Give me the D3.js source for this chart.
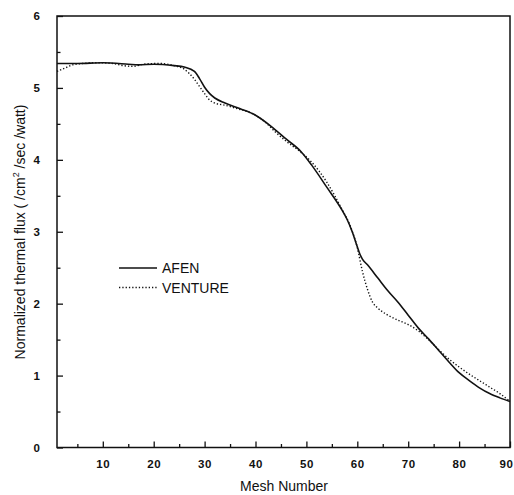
<!DOCTYPE html>
<html><head><meta charset="utf-8">
<script src="https://cdn.jsdelivr.net/npm/d3@7"></script>
<style>body{margin:0;background:#fff}svg{display:block}text{font-family:"Liberation Sans",Arial,sans-serif;fill:#111}</style>
</head><body><svg id="c" width="514" height="495"></svg>
<script>
const afenX = [1,5,10,15,17,20,24,26,28,29,30,31,32,34,37,40,43,46,49,51,54,57,58,59,60,60.5,61,62,64,66,68,70,72,74,76,78,80,82,84,86,88,90];
const afenY = [5.34,5.34,5.35,5.33,5.32,5.33,5.31,5.29,5.23,5.13,5.01,4.92,4.86,4.79,4.71,4.62,4.47,4.29,4.11,3.93,3.62,3.30,3.17,3.00,2.79,2.69,2.62,2.54,2.36,2.18,2.02,1.84,1.66,1.51,1.35,1.19,1.04,0.93,0.83,0.75,0.69,0.64];
const ventX = [1,2,3,4,6,9,12,14,16,18,21,24,26,27,28,29,30,31,32,34,36,40,42,44,46,49,51,54,57,58.5,60,61,62,63,64,66,68,70,72,74,76,78,80,82,84,86,88,90];
const ventY = [5.23,5.26,5.29,5.32,5.34,5.35,5.34,5.31,5.30,5.33,5.34,5.31,5.26,5.20,5.12,5.02,4.92,4.83,4.79,4.76,4.72,4.62,4.52,4.38,4.26,4.10,3.97,3.69,3.31,3.10,2.78,2.45,2.20,2.02,1.94,1.84,1.77,1.71,1.62,1.50,1.36,1.23,1.12,1.02,0.93,0.84,0.75,0.64];
const xMajor = [10,20,30,40,50,60,70,80,90];
const xMinor = [5,15,25,35,45,55,65,75,85];
const yMajor = [0,1,2,3,4,5,6];
const yMinor = [0.5,1.5,2.5,3.5,4.5,5.5];
const seriesNames = ["AFEN","VENTURE"];

const svg = d3.select("#c");
const L=57,R=510,T=16,B=447.5;
const x = d3.scaleLinear().domain([1,90]).range([L,R]);
const y = d3.scaleLinear().domain([0,6]).range([B,T]);

// frame
svg.append("rect").attr("x",L).attr("y",T).attr("width",R-L).attr("height",B-T)
  .attr("fill","none").attr("stroke","#111").attr("stroke-width",1.5);

// x ticks (inward)
const gx = svg.append("g").attr("transform",`translate(0,${B})`);
gx.call(d3.axisBottom(x).tickValues(xMajor).tickSizeInner(-6).tickSizeOuter(0).tickPadding(12).tickFormat(d3.format("d")))
gx.select(".domain").remove();
gx.selectAll(".tick line").attr("stroke","#111").attr("stroke-width",1.3);
gx.selectAll(".tick text").attr("font-size",11.5).attr("font-weight","bold").attr("letter-spacing",0.6).attr("fill","#111").attr("font-family","Liberation Sans, Arial, sans-serif")
  .attr("dx",d=>d===90?-4:0);
const gx2 = svg.append("g").attr("transform",`translate(0,${B})`);
gx2.call(d3.axisBottom(x).tickValues(xMinor).tickSizeInner(-3.5).tickSizeOuter(0).tickFormat(""));
gx2.select(".domain").remove();
gx2.selectAll(".tick line").attr("stroke","#111").attr("stroke-width",1.3);

// y ticks (inward)
const gy = svg.append("g").attr("transform",`translate(${L},0)`);
gy.call(d3.axisLeft(y).tickValues(yMajor).tickSizeInner(-6).tickSizeOuter(0).tickPadding(17).tickFormat(d3.format("d")));
gy.select(".domain").remove();
gy.selectAll(".tick line").attr("stroke","#111").attr("stroke-width",1.3);
gy.selectAll(".tick text").attr("font-size",11.5).attr("font-weight","bold").attr("fill","#111").attr("font-family","Liberation Sans, Arial, sans-serif");
const gy2 = svg.append("g").attr("transform",`translate(${L},0)`);
gy2.call(d3.axisLeft(y).tickValues(yMinor).tickSizeInner(-3.5).tickSizeOuter(0).tickFormat(""));
gy2.select(".domain").remove();
gy2.selectAll(".tick line").attr("stroke","#111").attr("stroke-width",1.3);

// lines
const line = d3.line().x(d=>x(d[0])).y(d=>y(d[1])).curve(d3.curveMonotoneX);
const afen = afenX.map((v,i)=>[v,afenY[i]]);
const vent = ventX.map((v,i)=>[v,ventY[i]]);
svg.append("path").datum(vent).attr("d",line).attr("fill","none").attr("stroke","#111")
  .attr("stroke-width",1.4).attr("stroke-dasharray","1.3,2");
svg.append("path").datum(afen).attr("d",line).attr("fill","none").attr("stroke","#111")
  .attr("stroke-width",1.6);

// legend
const lg = svg.append("g");
lg.append("line").attr("x1",119).attr("x2",157).attr("y1",268).attr("y2",268).attr("stroke","#111").attr("stroke-width",1.5);
lg.append("line").attr("x1",119).attr("x2",157).attr("y1",287.5).attr("y2",287.5).attr("stroke","#111").attr("stroke-width",1.3).attr("stroke-dasharray","1.3,2");
lg.append("text").attr("x",162).attr("y",273).attr("font-size",14).text(seriesNames[0]);
lg.append("text").attr("x",162).attr("y",292.5).attr("font-size",14).text(seriesNames[1]);

// axis titles
svg.append("text").attr("x",284).attr("y",491).attr("text-anchor","middle").attr("font-size",14).text("Mesh Number");
const yt = svg.append("text").attr("transform","translate(25,232) rotate(-90)").attr("text-anchor","middle").attr("font-size",14);
yt.append("tspan").text("Normalized thermal flux ( /cm");
yt.append("tspan").attr("font-size",9).attr("dy",-6).text("2");
yt.append("tspan").attr("dy",6).text(" /sec /watt)");
</script></body></html>
